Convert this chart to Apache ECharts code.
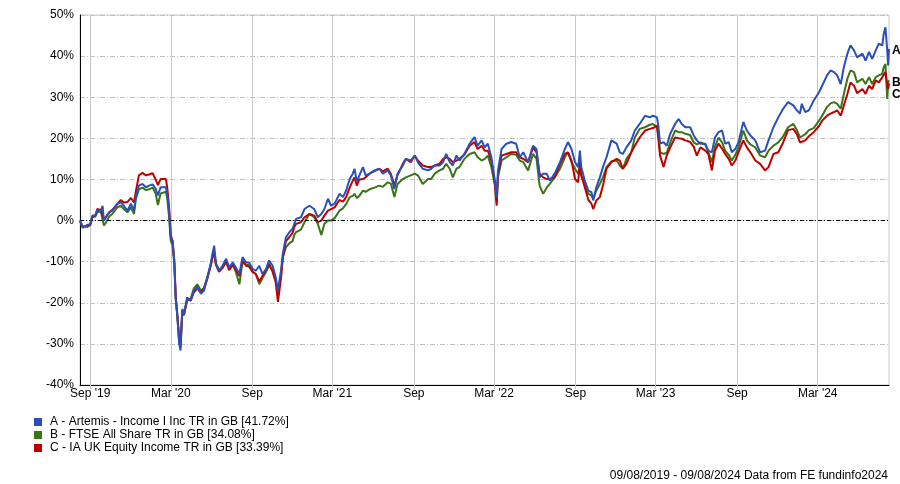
<!DOCTYPE html>
<html>
<head>
<meta charset="utf-8">
<script src="https://cdn.jsdelivr.net/npm/echarts@6/dist/echarts.min.js"></script>
<style>
html,body{margin:0;padding:0;background:#fff;}
#chart{width:900px;height:484px;}
</style>
</head>
<body>
<div id="chart"></div>
<script>
var seriesNames = [
  "A - Artemis - Income I Inc TR in GB [41.72%]",
  "B - FTSE All Share TR in GB [34.08%]",
  "C - IA UK Equity Income TR in GB [33.39%]"
];
var endTags = ["A", "B", "C"];
var footerText = "09/08/2019 - 09/08/2024 Data from FE fundinfo2024";

var tickDates = ["2019-09-01","2020-03-01","2020-09-01","2021-03-01","2021-09-01","2022-03-01","2022-09-01","2023-03-01","2023-09-01","2024-03-01"];
var tickLabels = ["Sep '19","Mar '20","Sep","Mar '21","Sep","Mar '22","Sep","Mar '23","Sep","Mar '24"];
var yTicks = [-40,-30,-20,-10,0,10,20,30,40,50];

var dates = [
"2019-08-09","2019-08-15","2019-08-26","2019-09-01","2019-09-06","2019-09-13","2019-09-17","2019-09-25","2019-09-29","2019-10-02",
"2019-10-06","2019-10-14","2019-10-21","2019-11-01","2019-11-09","2019-11-16","2019-11-24","2019-12-02","2019-12-09","2019-12-13",
"2019-12-20","2019-12-28","2020-01-05","2020-01-12","2020-01-20","2020-01-27","2020-02-01","2020-02-07","2020-02-19","2020-02-22",
"2020-02-26","2020-03-01","2020-03-05","2020-03-09","2020-03-12","2020-03-16","2020-03-20","2020-03-23","2020-03-27","2020-03-31",
"2020-04-07","2020-04-15","2020-04-22","2020-04-30","2020-05-08","2020-05-15","2020-05-23","2020-05-30","2020-06-03","2020-06-07",
"2020-06-11","2020-06-18","2020-06-26","2020-07-04","2020-07-11","2020-07-19","2020-07-26","2020-08-03","2020-08-10","2020-08-18",
"2020-08-25","2020-09-02","2020-09-09","2020-09-17","2020-09-24","2020-10-02","2020-10-09","2020-10-17","2020-10-24","2020-10-29",
"2020-11-05","2020-11-09","2020-11-16","2020-11-24","2020-12-01","2020-12-05","2020-12-09","2020-12-20","2020-12-28","2021-01-08",
"2021-01-19","2021-01-27","2021-02-04","2021-02-11","2021-02-19","2021-02-26","2021-03-06","2021-03-17","2021-03-25","2021-04-01",
"2021-04-09","2021-04-16","2021-04-20","2021-04-25","2021-05-01","2021-05-09","2021-05-15","2021-05-24","2021-06-04","2021-06-15",
"2021-06-23","2021-07-04","2021-07-11","2021-07-19","2021-07-26","2021-08-07","2021-08-14","2021-08-25","2021-09-03","2021-09-10",
"2021-09-21","2021-10-03","2021-10-10","2021-10-18","2021-10-29","2021-11-06","2021-11-13","2021-11-21","2021-11-28","2021-12-06",
"2021-12-13","2021-12-24","2022-01-05","2022-01-16","2022-01-23","2022-02-01","2022-02-08","2022-02-15","2022-02-23","2022-03-03",
"2022-03-07","2022-03-10","2022-03-18","2022-03-29","2022-04-09","2022-04-20","2022-04-28","2022-05-06","2022-05-17","2022-05-28",
"2022-06-05","2022-06-12","2022-06-20","2022-06-28","2022-07-05","2022-07-16","2022-07-28","2022-08-08","2022-08-15","2022-08-23",
"2022-08-31","2022-09-07","2022-09-11","2022-09-14","2022-09-22","2022-09-30","2022-10-07","2022-10-11","2022-10-18","2022-10-26",
"2022-11-02","2022-11-10","2022-11-21","2022-12-03","2022-12-10","2022-12-17","2022-12-25","2023-01-05","2023-01-13","2023-01-24",
"2023-02-05","2023-02-16","2023-02-23","2023-03-04","2023-03-07","2023-03-11","2023-03-19","2023-03-26","2023-04-03","2023-04-14",
"2023-04-22","2023-04-29","2023-05-07","2023-05-18","2023-05-26","2023-06-02","2023-06-10","2023-06-21","2023-06-28","2023-07-06",
"2023-07-13","2023-07-21","2023-07-29","2023-08-05","2023-08-13","2023-08-20","2023-08-28","2023-09-04","2023-09-15","2023-09-23",
"2023-10-01","2023-10-12","2023-10-23","2023-11-03","2023-11-11","2023-11-22","2023-12-03","2023-12-14","2023-12-25","2024-01-06",
"2024-01-14","2024-01-21","2024-01-25","2024-02-02","2024-02-10","2024-02-21","2024-03-04","2024-03-11","2024-03-22","2024-03-30",
"2024-04-07","2024-04-14","2024-04-22","2024-04-29","2024-05-07","2024-05-14","2024-05-22","2024-05-29","2024-06-10","2024-06-17",
"2024-06-25","2024-07-02","2024-07-10","2024-07-17","2024-07-25","2024-07-28","2024-08-01","2024-08-05","2024-08-07","2024-08-09"
];

var valuesA = [
0,-1.6,-1.2,-0.8,1.2,1.2,2.6,2.4,3.6,0,
0.4,2.0,2.4,4.0,4.5,3.6,2.4,4.1,2.4,5.7,
8.5,8.9,8.1,8.5,8.8,7.7,6.1,8.1,8.1,6.5,
2.4,-4.1,-4.9,-9.7,-18.7,-23.5,-30,-31.6,-21.9,-22.7,
-18.7,-19.5,-17,-16.2,-17.8,-17,-13.8,-10.5,-8.1,-6.1,
-10.5,-12.2,-11,-9.3,-11.4,-10.2,-11.4,-13,-8.9,-10.2,
-10.2,-11.8,-12.2,-11,-13,-11.8,-9.7,-11,-13.8,-17,
-12.2,-8.1,-4.1,-2.8,-2.0,-0.8,0.4,0.8,2.8,3.6,
2.8,0.8,1.6,2.8,5.3,3.6,4.1,6.5,5.7,7.3,
10.1,11.4,12.6,9.5,11,13,11,11.4,12.2,12.6,
11.4,12.2,11,7.7,11.4,13.4,15,14.6,15.8,14.2,
12.6,12.2,12.6,13.4,13.4,14.2,16.2,14.2,13.4,15.8,
14.6,16.2,18.7,20.3,18.2,19.5,17.8,18.7,15.4,9.7,
5.7,12.2,17.4,18.7,19.1,18.7,15.4,16.6,14.2,18.2,
17.4,10.5,11.4,11.4,9.7,11.4,14.2,17.4,19.1,17.4,
14.2,13,17,13,9.7,7.3,6.9,4.9,8.1,10.5,
13,15.4,19.5,18.7,16.6,16.2,17.8,19.5,21.9,23.5,
25.5,25.1,25.5,25.1,23.1,18.7,19.1,18.2,21.1,23.5,
24.7,23.5,22.7,22.7,20.7,19.5,18.7,18.7,17,16.6,
20.2,21.5,21.9,18.7,19.1,16.6,17.4,19,24,21.9,
20.7,19.5,16.6,17,19.5,22.7,25.1,27.2,28.8,28,
26.8,26,28.4,26.4,26.8,29.2,31.2,32.8,35.3,36.5,
36.1,35.3,33.2,37.3,40.6,42.6,41.4,39.7,40.6,38.9,
41,39.3,41.4,43,42.6,45.4,47,41.4,37.7,41.72
];

var valuesB = [
0,-1.8,-1.0,-1.2,0.8,1.0,2.0,2.2,2.4,-1.2,
-0.6,1.0,1.6,3.2,3.6,2.8,2.0,3.2,1.6,5.2,
7.6,8.0,7.4,7.6,8.0,6.5,3.8,6.6,7.0,5.5,
1.0,-5.0,-6.0,-10.5,-19.0,-23.0,-28.5,-30.0,-21.5,-22.5,
-19.5,-19.0,-16.5,-15.5,-17.0,-16.5,-13.5,-11.0,-9.0,-8.0,
-10.5,-12.0,-11.5,-10.0,-12.0,-10.5,-12.5,-15.5,-10.0,-10.8,
-10.8,-12.5,-13.0,-15.5,-14.0,-12.5,-11.0,-12.0,-14.5,-17.5,
-13.0,-9.0,-6.5,-5.5,-5.0,-3.5,-2.8,-2.2,-0.4,1.6,
0.8,-0.8,-3.5,-0.8,0.0,0.0,0.6,2.4,3.0,4.0,
5.7,6.0,6.5,5.5,6.0,7.3,7.0,7.6,8.0,8.5,
8.2,9.3,9.0,5.7,8.9,10.1,10.5,11.0,11.4,11.0,
8.9,10.1,10.1,11.4,12.2,12.6,13.8,12.6,10.5,12.6,
13.0,15.0,16.2,16.6,15.4,14.6,15.0,15.8,13.0,8.5,
4.5,10.5,14.6,15.4,16.2,16.0,14.6,14.2,12.2,16.2,
15.0,8.5,6.5,8.0,8.9,10.5,12.6,15.4,16.6,14.2,
12.6,11.4,13.0,11.0,8.9,6.5,6.1,5.3,7.3,8.9,
10.5,13.0,14.4,14.6,13.4,12.6,15.0,16.6,20.2,22.3,
22.7,23.3,23.5,22.7,21.0,16.6,16.2,16.5,19.0,21.9,
21.5,21.5,21.1,20.8,19.0,18.5,19.0,18.5,16.6,14.2,
18.0,20.2,19.0,17.0,16.0,14.6,16.0,17.8,21.9,19.5,
18.5,17.8,15.8,15.4,17.0,18.2,19.0,20.5,22.7,23.5,
22.0,20.2,20.5,21.0,22.0,22.5,24.3,25.5,27.6,28.5,
28.8,28.4,27.2,30.8,34.5,36.5,36.1,33.6,34.5,33.2,
34.9,33.2,34.9,35.3,35.7,37.3,38.1,29.6,33.6,34.08
];

var valuesC = [
0,-1.4,-1.5,-1.0,0.9,1.3,2.8,2.6,3.0,0.3,
0.6,2.0,2.6,4.0,5.0,4.4,4.5,5.5,4.4,7.0,
11.0,11.6,11.0,11.2,11.5,10.0,8.6,10.1,10.1,8.0,
3.5,-3.5,-5.0,-10.0,-18.0,-23.5,-29.5,-30.8,-22.5,-23.0,
-19.0,-19.5,-17.5,-16.5,-17.5,-16.5,-14.0,-11.0,-9.0,-7.5,
-10.8,-12.5,-11.5,-10.0,-12.0,-10.8,-12.0,-13.5,-9.8,-11.0,
-11.2,-12.5,-13.0,-14.8,-13.5,-12.0,-10.5,-12.5,-15.0,-19.8,
-14.0,-9.0,-5.0,-4.0,-3.0,-1.6,-0.8,-0.4,0.8,1.6,
1.2,-0.4,0.0,1.2,2.4,2.8,3.2,5.0,4.6,5.7,
8.0,9.7,10.5,8.5,10.0,10.1,10.5,11.4,12.0,12.6,
12.0,12.6,11.4,8.5,11.0,13.8,15.0,14.2,15.8,14.6,
13.4,13.0,13.0,13.4,13.8,15.0,15.4,15.0,14.2,14.6,
15.0,16.0,18.2,19.1,17.4,18.2,17.0,17.0,14.6,9.0,
3.6,11.4,15.8,16.2,16.6,16.6,15.4,15.0,14.2,17.8,
16.6,11.4,10.5,10.1,10.1,10.5,13.8,16.2,16.6,14.6,
10.1,9.3,14.2,11.0,8.1,5.0,4.1,2.8,4.9,5.7,
8.5,12.6,14.2,15.0,14.6,12.6,13.8,16.6,18.2,20.2,
21.9,22.3,22.5,23.1,20.0,15.8,13.0,15.8,17.8,20.2,
20.0,19.9,19.5,19.1,18.0,15.8,17.8,17.0,16.2,12.2,
17.0,18.7,17.5,16.2,15.0,13.4,14.6,16.6,19.5,17.8,
16.6,14.6,13.8,12.2,13.0,16.2,16.6,19.0,22.0,22.3,
21.0,19.0,19.0,19.5,20.5,21.5,23.0,24.3,25.5,26.0,
26.4,26.8,25.5,28.0,30.8,33.6,32.8,31.0,32.0,30.8,
32.8,32.0,34.1,33.6,34.9,35.3,36.1,33.0,32.0,33.39
];

var colors = ["#2a50b8", "#3b7317", "#c00000"];
var FONT = "'Liberation Sans', Arial, sans-serif";

var parse = echarts.number.parseDate;
var times = dates.map(function (d) { return parse(d).getTime(); });
function pairs(vals) {
  return times.map(function (t, i) { return [t, vals[i]]; });
}

var tickTimes = tickDates.map(function (d) { return parse(d).getTime(); });
var labelByTime = {};
tickTimes.forEach(function (t, i) { labelByTime[t] = tickLabels[i]; });

var chart = echarts.init(document.getElementById('chart'), null, {renderer: 'canvas'});

function makeSeries(idx, vals, extra) {
  var s = {
    name: seriesNames[idx],
    type: 'line',
    data: pairs(vals),
    showSymbol: false,
    symbol: 'none',
    color: colors[idx],
    lineStyle: {width: 2, color: colors[idx]},
    z: 3 + (idx === 0 ? 2 : (idx === 2 ? 1 : 0)),
    endLabel: {
      show: true,
      formatter: endTags[idx],
      color: '#000',
      fontFamily: FONT,
      fontSize: 12,
      fontWeight: 'bold',
      distance: 3,
      offset: idx === 2 ? [0, 11] : [0, 2]
    },
    emphasis: {disabled: true}
  };
  if (extra) { for (var k in extra) s[k] = extra[k]; }
  return s;
}

var option = {
  animation: false,
  backgroundColor: '#fff',
  textStyle: {fontFamily: FONT},
  grid: {
    left: 80, right: 11, top: 15, bottom: 99,
    show: true, borderColor: '#c8c8c8', borderWidth: 1, backgroundColor: 'transparent'
  },
  legend: {
    data: seriesNames,
    orient: 'vertical',
    left: 34, top: 416,
    padding: 0,
    itemWidth: 8, itemHeight: 8, itemGap: 1,
    icon: 'rect',
    selectedMode: false,
    textStyle: {fontFamily: FONT, fontSize: 12, color: '#000', padding: [0, 0, 0, 3]}
  },
  graphic: [{
    type: 'text',
    right: 12, top: 470,
    style: {text: footerText, font: '12px ' + FONT, fill: '#000'}
  }],
  xAxis: {
    type: 'value',
    min: times[0],
    max: times[times.length - 1],
    axisLine: {show: true, onZero: false, lineStyle: {color: '#000', width: 1}},
    axisTick: {show: true, length: 4, customValues: tickTimes, lineStyle: {color: '#c8c8c8'}},
    axisLabel: {
      customValues: tickTimes,
      color: '#000', fontFamily: FONT, fontSize: 12, margin: 3,
      formatter: function (v) { return labelByTime[v] !== undefined ? labelByTime[v] : ''; }
    },
    splitLine: {show: true, lineStyle: {color: '#c8c8c8', width: 1, type: 'solid'}}
  },
  yAxis: {
    type: 'value',
    min: yTicks[0], max: yTicks[yTicks.length - 1], interval: 10,
    axisLine: {show: true, lineStyle: {color: '#000', width: 1}},
    axisTick: {show: false},
    axisLabel: {color: '#000', fontFamily: FONT, fontSize: 12, margin: 6, formatter: '{value}%'},
    splitLine: {show: true, lineStyle: {color: '#c0c0c0', width: 1, type: [5, 2, 1, 2]}}
  },
  series: [
    makeSeries(1, valuesB),
    makeSeries(2, valuesC),
    makeSeries(0, valuesA, {
      markLine: {
        silent: true, symbol: 'none', label: {show: false},
        lineStyle: {color: '#000', width: 1, type: [4, 2, 1, 2]},
        data: [{yAxis: 0}]
      }
    })
  ]
};
chart.setOption(option);
</script>
</body>
</html>
